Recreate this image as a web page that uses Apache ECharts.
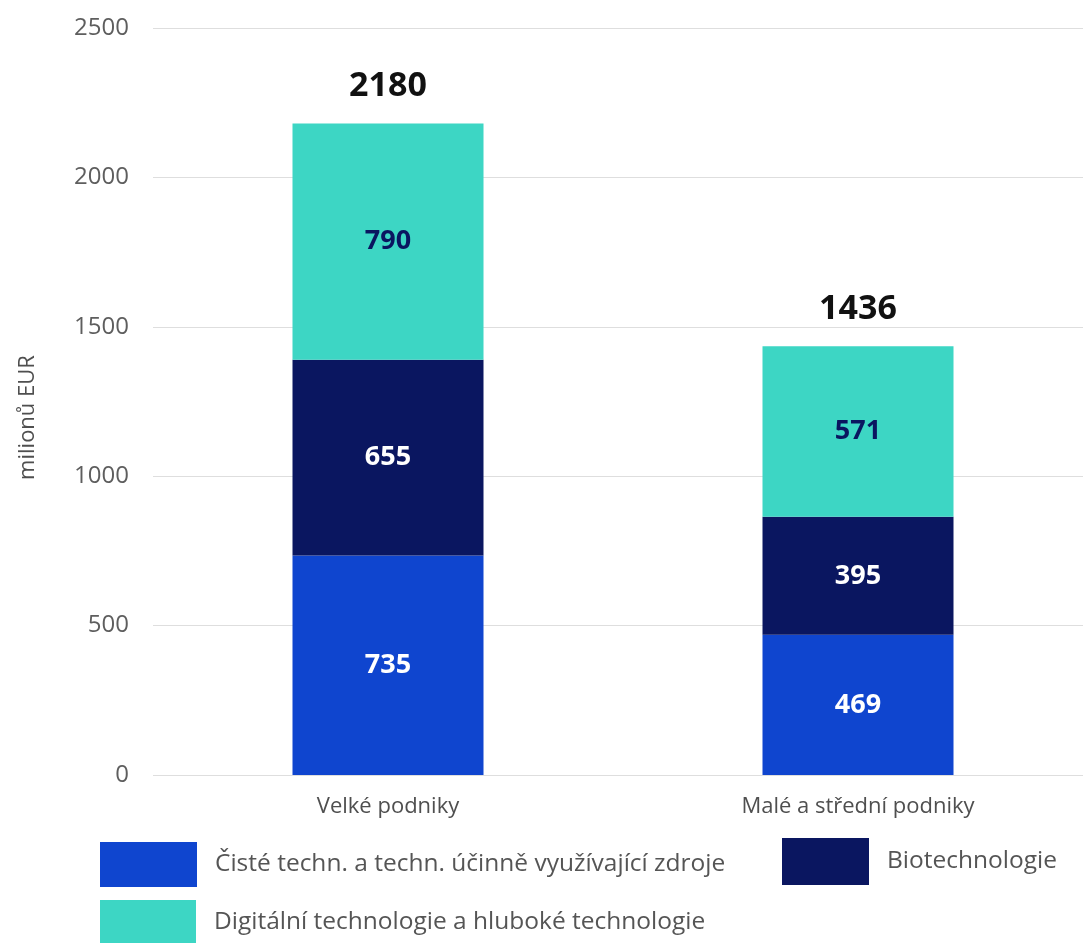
<!DOCTYPE html>
<html>
<head>
<meta charset="utf-8">
<script src="https://cdn.jsdelivr.net/npm/echarts@6/dist/echarts.min.js"></script>
<style>
html,body{margin:0;padding:0;background:#fff;overflow:hidden;width:1083px;height:943px;}
#chart{width:1093px;height:943px;}
</style>
</head>
<body>
<div id="chart"></div>
<script>
const categories = ['Velké podniky', 'Malé a střední podniky'];
const seriesNames = [
  'Čisté techn. a techn. účinně využívající zdroje',
  'Biotechnologie',
  'Digitální technologie a hluboké technologie'
];
const cleanTech = [735, 469];
const biotech = [655, 395];
const digital = [790, 571];
const totals = [2180, 1436];
const yTicks = [0, 500, 1000, 1500, 2000, 2500];

const colors = ['#0f45cf', '#0a1660', '#3dd6c4'];
const FONT = '"Open Sans", "Noto Sans", sans-serif';

const chart = echarts.init(document.getElementById('chart'), null, {renderer: 'canvas'});

function segLabel(color) {
  return {
    show: true,
    position: 'inside',
    color: color,
    fontSize: 27,
    fontWeight: 'bold',
    fontFamily: FONT
  };
}

const legendText = {color: '#555555', fontSize: 24.5, fontFamily: FONT, padding: [0, 0, 0, 13]};

const option = {
  backgroundColor: '#ffffff',
  animation: false,
  grid: {left: 153, top: 28, bottom: 168, right: 0, containLabel: false},
  legend: [
    {data: [seriesNames[0]], left: 100, top: 842, padding: 0, itemWidth: 97, itemHeight: 45, textStyle: legendText, icon: 'rect', selectedMode: false},
    {data: [seriesNames[1]], left: 782, top: 838, padding: 0, itemWidth: 87, itemHeight: 47, textStyle: legendText, icon: 'rect', selectedMode: false},
    {data: [seriesNames[2]], left: 100, top: 900, padding: 0, itemWidth: 96, itemHeight: 45, textStyle: legendText, icon: 'rect', selectedMode: false}
  ],
  xAxis: {
    type: 'category',
    data: categories,
    axisLine: {show: false},
    axisTick: {show: false},
    axisLabel: {color: '#4f4f4f', fontSize: 22, fontFamily: FONT, margin: 21}
  },
  yAxis: {
    type: 'value',
    min: yTicks[0],
    max: yTicks[yTicks.length - 1],
    interval: 500,
    name: 'milionů EUR',
    nameLocation: 'middle',
    nameGap: 114,
    nameTextStyle: {color: '#4f4f4f', fontSize: 22, fontFamily: FONT, padding: [0, 0, 0, -32]},
    axisLine: {show: false},
    axisTick: {show: false},
    axisLabel: {color: '#5e5e5e', fontSize: 24, fontFamily: FONT, margin: 24, formatter: function (v) { return String(v); }},
    splitLine: {lineStyle: {color: '#dedede', width: 1}}
  },
  series: [
    {name: seriesNames[0], type: 'bar', stack: 'a', data: cleanTech, barWidth: 191,
     itemStyle: {color: colors[0]}, label: segLabel('#ffffff')},
    {name: seriesNames[1], type: 'bar', stack: 'a', data: biotech, barWidth: 191,
     itemStyle: {color: colors[1]}, label: segLabel('#ffffff')},
    {name: seriesNames[2], type: 'bar', stack: 'a', data: digital, barWidth: 191,
     itemStyle: {color: colors[2]}, label: segLabel('#0a1660')},
    {name: 'total', type: 'bar', data: totals, barWidth: 191, barGap: '-100%', z: 0,
     itemStyle: {color: 'rgba(0,0,0,0)'}, silent: true,
     label: {show: true, position: 'top', distance: 20, color: '#111111', fontSize: 34, fontWeight: 'bold', fontFamily: FONT}}
  ]
};
chart.setOption(option);
</script>
</body>
</html>
